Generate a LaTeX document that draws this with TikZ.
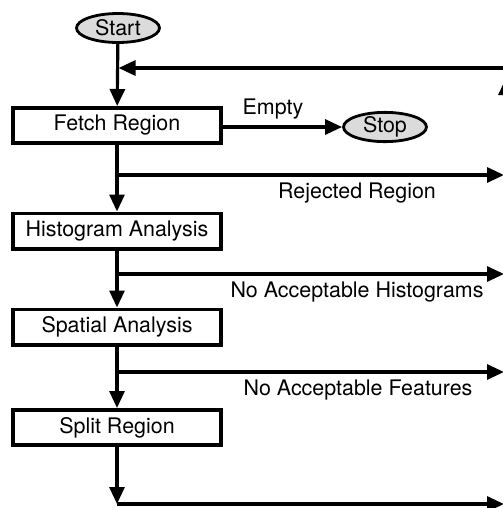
\documentclass[tikz,border=0pt]{standalone}
\usepackage{fontspec}
\setmainfont{TeX Gyre Heros}
\usetikzlibrary{arrows.meta,shapes.geometric}
\tikzset{
  >={Triangle[length=0.34cm,width=0.3cm]},
}
\tikzstyle{every node}=[font=\fontsize{12.2}{14}\selectfont]
\tikzstyle{process}=[draw,line width=2pt,minimum width=4.16cm,minimum height=0.71cm,inner sep=0pt]
\tikzstyle{terminal}=[draw,ellipse,line width=1.6pt,fill=gray!28,minimum width=1.66cm,minimum height=0.58cm,inner sep=0pt]
\tikzstyle{flow}=[line width=1.8pt,->]
\tikzstyle{wire}=[line width=1.8pt]

\begin{document}
\begin{tikzpicture}[x=0.02cm,y=-0.02cm]
    \useasboundingbox (0,0) rectangle (503,508);
    \clip (0,0) rectangle (503,508);

    \node[terminal] (start) at (118,28) {Start};
    \node[process] (fetch) at (117,125.5) {Fetch Region};
    \node[terminal] (stop) at (385,127) {Stop};
    \node[process] (hist) at (117,231) {Histogram Analysis};
    \node[process] (spatial) at (117,327) {Spatial Analysis};
    \node[process] (split) at (117,427.5) {Split Region};

    \node (empty) at (273,109) {Empty};
    \node (rejected) at (357,193) {Rejected Region};
    \node (nohist) at (357,292) {No Acceptable Histograms};
    \node (nofeat) at (358,390) {No Acceptable Features};

    \coordinate (loop) at (504,68);
    \coordinate (upfoot) at (506,140);
    \coordinate (uptip) at (506,78);
    \coordinate (j1) at (117,175);
    \coordinate (r1) at (504,175);
    \coordinate (j2) at (117,274);
    \coordinate (r2) at (504,274);
    \coordinate (j3) at (117,372);
    \coordinate (r3) at (504,372);
    \coordinate (j4) at (117,504);
    \coordinate (r4) at (504,504);

    \draw[flow] (start) -- (fetch);
    \draw[flow,shorten >=0.9pt] (loop) -- (fetch.north |- loop);
    \draw[flow] (upfoot) -- (uptip);
    \draw[flow] (fetch.east |- stop) -- (stop.west);

    \draw[wire] (fetch) -- (j1);
    \draw[flow] (j1) -- (hist);
    \draw[flow] (j1) -- (r1);

    \draw[wire] (hist) -- (j2);
    \draw[flow] (j2) -- (spatial);
    \draw[flow] (j2) -- (r2);

    \draw[wire] (spatial) -- (j3);
    \draw[flow] (j3) -- (split);
    \draw[flow] (j3) -- (r3);

    \draw[flow] (split) -- (j4);
    \draw[flow] (j4) -- (r4);
\end{tikzpicture}
\end{document}
